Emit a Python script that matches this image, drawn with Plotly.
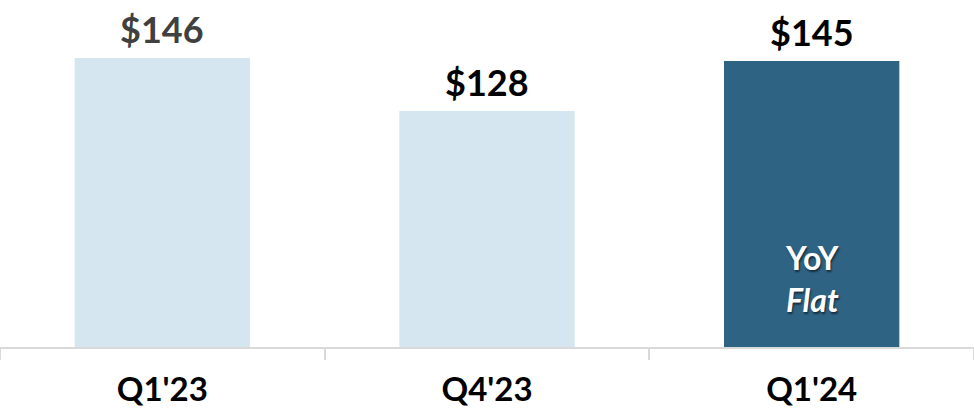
import plotly.graph_objects as go

# Dados do gráfico
trimestres = ["Q1'23", "Q4'23", "Q1'24"]
valores = [146, 128, 145]
rotulos = ["$146", "$128", "$145"]
cores_barra = ["#D6E6F0", "#D6E6F0", "#2E6384"]
cores_rotulo = ["#404040", "#000000", "#000000"]
nota_texto = "<b>YoY</b><br><b><i>Flat</i></b>"

FONTE = "Lato, 'Open Sans', sans-serif"

fig = go.Figure(
    go.Bar(
        x=trimestres,
        y=valores,
        marker_color=cores_barra,
        marker_line_width=0,
        hoverinfo="skip",
    )
)

# Rótulos de valor acima das barras
for x, y, txt, cor in zip(trimestres, valores, rotulos, cores_rotulo):
    fig.add_annotation(
        x=x, y=y, text=f"<b>{txt}</b>", showarrow=False,
        yanchor="bottom", yshift=5,
        font=dict(family=FONTE, size=36, color=cor),
    )

# Texto dentro da última barra
fig.add_annotation(
    x=trimestres[-1], y=71, text=nota_texto, showarrow=False,
    yanchor="middle",
    font=dict(family=FONTE, size=32, color="white",
              shadow="1px 2px 2px rgba(0,0,0,0.55)"),
)

fig.update_layout(
    width=974,
    height=419,
    margin=dict(l=0, r=0, t=0, b=72),
    paper_bgcolor="white",
    plot_bgcolor="white",
    bargap=0.46,
    showlegend=False,
)

fig.update_xaxes(
    automargin=False,
    showline=True,
    linecolor="#D9D9D9",
    linewidth=2,
    ticks="outside",
    tickson="boundaries",
    ticklen=11,
    tickcolor="#D9D9D9",
    tickwidth=2,
    tickfont=dict(family=FONTE, size=33, color="black", weight="bold"),
    ticklabelstandoff=12,
)

fig.update_yaxes(range=[47.8, 165.7], visible=False, showgrid=False, automargin=False)

# Remove a margem padrão do body da página
fig.write_html(
    "out.html",
    config={"displayModeBar": False},
    post_script="document.body.style.margin='0';",
)
